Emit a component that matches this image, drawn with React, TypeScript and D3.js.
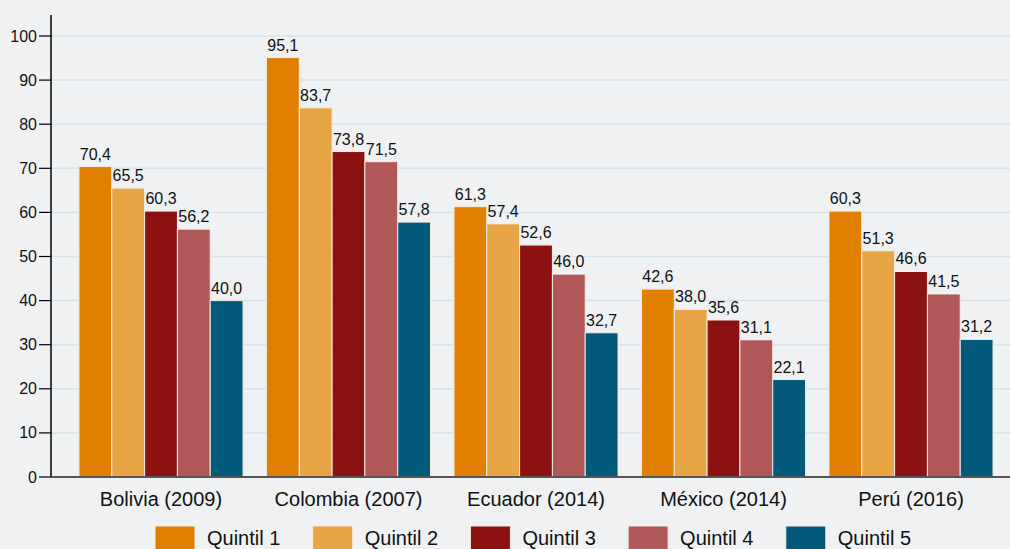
import React from 'react'
import * as d3 from 'd3'

const countries = ['Bolivia (2009)', 'Colombia (2007)', 'Ecuador (2014)', 'México (2014)', 'Perú (2016)']
const quintiles = ['Quintil 1', 'Quintil 2', 'Quintil 3', 'Quintil 4', 'Quintil 5']
const colors = ['#e07f00', '#e8a545', '#8c1111', '#b05757', '#02597a']
const values = [
  [70.4, 65.5, 60.3, 56.2, 40.0],
  [95.1, 83.7, 73.8, 71.5, 57.8],
  [61.3, 57.4, 52.6, 46.0, 32.7],
  [42.6, 38.0, 35.6, 31.1, 22.1],
  [60.3, 51.3, 46.6, 41.5, 31.2],
]
const yTicks = [0, 10, 20, 30, 40, 50, 60, 70, 80, 90, 100]

const W = 1010
const H = 549
const left = 51
const fmt = (v: number) => v.toFixed(1).replace('.', ',')

export default function App() {
  const x0 = d3.scaleBand<string>().domain(countries).range([67.25, 1004.75]).paddingInner(0.125).paddingOuter(0.0625)
  const x1 = d3.scaleBand<string>().domain(quintiles).range([0, x0.bandwidth()])
  const y = d3.scaleLinear().domain([0, 100]).range([477, 36])
  const font = 'Arial, "Liberation Sans", sans-serif'

  return (
    <div style={{ position: 'fixed', left: 0, top: 0 }}>
      <svg width={W} height={H} style={{ display: 'block', fontFamily: font }}>
        <rect width={W} height={H} fill="#eff1f3" />
        {/* grid */}
        {yTicks.filter(t => t > 0).map(t => (
          <line key={t} x1={left} x2={W} y1={y(t)} y2={y(t)} stroke="#d6e3e9" strokeWidth={1.5} />
        ))}
        {/* bars */}
        {countries.map((c, i) => (
          <g key={c} transform={`translate(${x0(c)},0)`}>
            {quintiles.map((q, j) => {
              const v = values[i][j]
              return (
                <g key={q}>
                  <rect x={x1(q)} y={y(v)} width={x1.bandwidth()} height={y(0) - y(v)}
                    fill={colors[j]} stroke="#f4ece4" strokeWidth={1} />
                  <text x={(x1(q) || 0) + x1.bandwidth() / 2} y={y(v) - 7} textAnchor="middle"
                    fontSize={16} fill="#111">{fmt(v)}</text>
                </g>
              )
            })}
            <text x={x0.bandwidth() / 2} y={506} textAnchor="middle" fontSize={20} fill="#111">{c}</text>
          </g>
        ))}
        {/* y axis */}
        <line x1={left} x2={left} y1={15} y2={477} stroke="#000" strokeWidth={1.5} />
        {yTicks.map(t => (
          <g key={t}>
            <line x1={left - 12} x2={left} y1={y(t)} y2={y(t)} stroke="#000" strokeWidth={1.2} />
            <text x={left - 14} y={y(t) + 5.5} textAnchor="end" fontSize={16} fill="#111">{t}</text>
          </g>
        ))}
        <line x1={left} x2={W} y1={477} y2={477} stroke="#555" strokeWidth={2} />
        {/* legend */}
        {quintiles.map((q, j) => (
          <g key={q} transform={`translate(${155 + j * 157.7},526)`}>
            <rect width={40} height={24} fill={colors[j]} stroke="#f4ece4" strokeWidth={1} />
            <text x={52} y={19} fontSize={20} fill="#111">{q}</text>
          </g>
        ))}
      </svg>
    </div>
  )
}
